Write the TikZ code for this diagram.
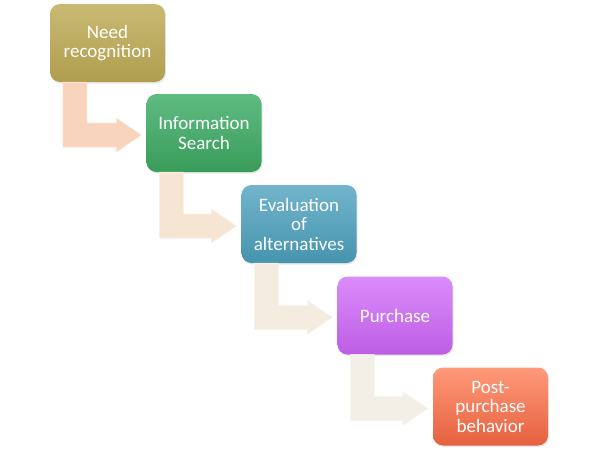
\documentclass[tikz,border=0pt]{standalone}
\usepackage{fontspec}
\setmainfont{Carlito}
\usetikzlibrary{calc,shadows}
\definecolor{ar1}{HTML}{F8D4BC}
\definecolor{ar2}{HTML}{F5E5D2}
\definecolor{ar3}{HTML}{F3ECDF}
\definecolor{ar4}{HTML}{F2F0E6}
\tikzset{
  stage/.style={rounded corners=10pt, minimum width=115pt, minimum height=78pt,
    text width=110pt, align=center, text=white, inner sep=0pt,
    font=\fontsize{19}{19.5}\selectfont,
    drop shadow={opacity=0.18, shadow xshift=1pt, shadow yshift=-1.5pt}},
  bent/.style={fill=#1, draw=white!40!#1, line width=0.6pt}
}
\newcommand\bentarrow[3]{%
  \path[bent=#3] let \p1=(#1.south west), \p2=(#2.west) in
    (\x1+13pt,\y1) -- (\x1+37pt,\y1) -- (\x1+37pt,\y2+10pt) -- (\x2-30pt,\y2+10pt)
    -- (\x2-30pt,\y2+15pt) -- (\x2-5pt,\y2-2pt) -- (\x2-30pt,\y2-19pt)
    -- (\x2-30pt,\y2-14pt) -- (\x1+13pt,\y2-14pt) -- cycle;}
\begin{document}
\begin{tikzpicture}[x=1pt,y=-1pt]
\useasboundingbox (0,0) rectangle (600,450);
\node[stage, top color={rgb,255:red,201;green,186;blue,115}, bottom color={rgb,255:red,176;green,158;blue,78}] (s1) at (107.5,43) {Need\\recognition};
\node[stage, top color={rgb,255:red,96;green,188;blue,130}, bottom color={rgb,255:red,56;green,156;blue,90}] (s2) at (204,133) {Information\\Search};
\node[stage, top color={rgb,255:red,114;green,180;blue,204}, bottom color={rgb,255:red,70;green,148;blue,174}] (s3) at (299,224) {Evaluation\\of\\alternatives};
\node[stage, top color={rgb,255:red,218;green,140;blue,251}, bottom color={rgb,255:red,190;green,94;blue,228}] (s4) at (395,315.5) {Purchase};
\node[stage, top color={rgb,255:red,255;green,154;blue,122}, bottom color={rgb,255:red,230;green,96;blue,62}] (s5) at (490.5,406.5) {Post-\\purchase\\behavior};
\bentarrow{s1}{s2}{ar1}
\bentarrow{s2}{s3}{ar2}
\bentarrow{s3}{s4}{ar3}
\bentarrow{s4}{s5}{ar4}
\end{tikzpicture}
\end{document}
